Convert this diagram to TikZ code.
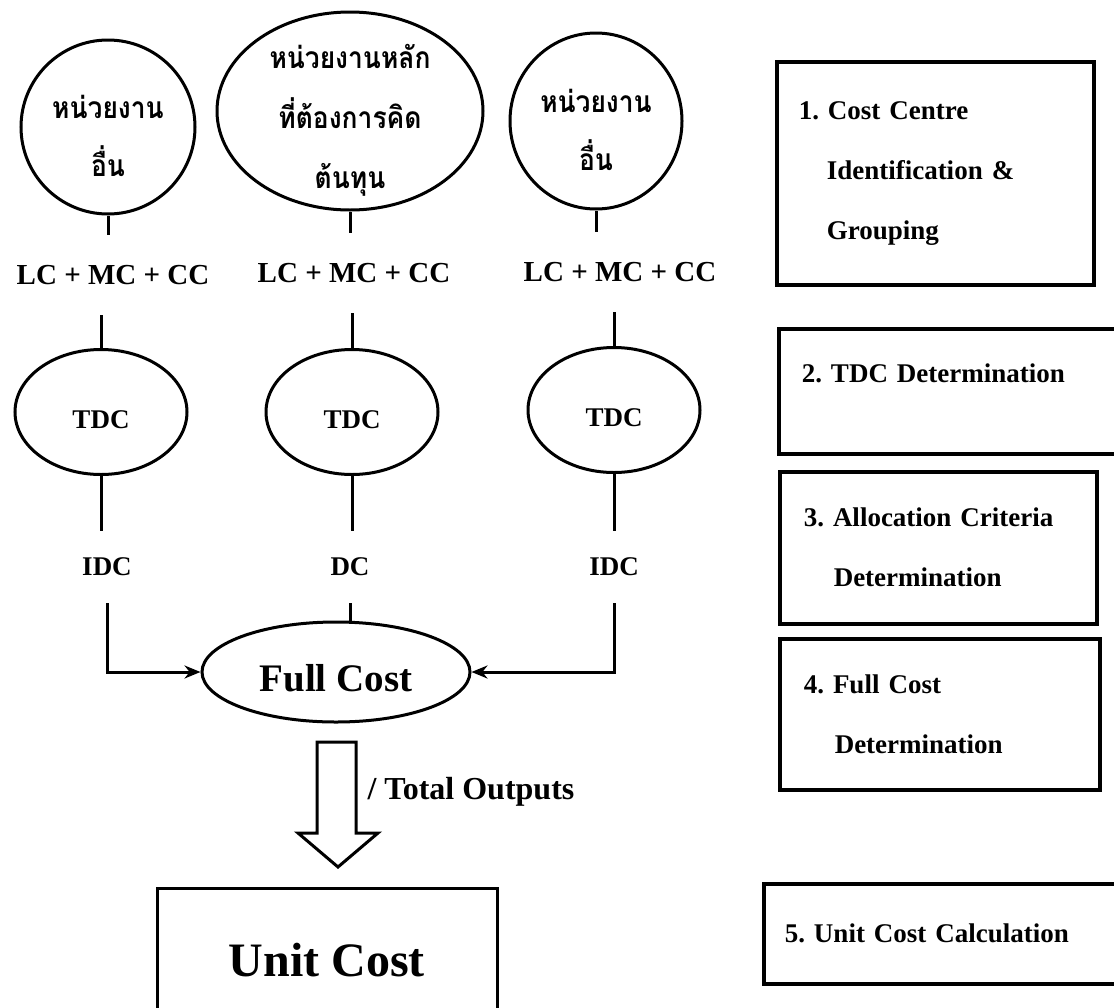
\documentclass[tikz,border=0pt]{standalone}
\usepackage{fontspec}
\setmainfont{Liberation Serif}
\newfontfamily\thaifont[Script=Thai, FakeStretch=0.88]{Loma}
\usetikzlibrary{shapes.geometric, arrows.meta}

\begin{document}
\frenchspacing
\begin{tikzpicture}[x=1pt, y=-1pt, line width=3pt,
  unidade/.style={ellipse, draw, inner sep=0pt},
  tailandes/.style={align=center, yshift=-9pt,
    font=\thaifont\bfseries\fontsize{30}{58}\selectfont},
  custo/.style={inner sep=0pt, outer ysep=30pt, font=\bfseries\fontsize{29}{34}\selectfont},
  rateio/.style={inner sep=0pt, outer ysep=27pt, font=\bfseries\fontsize{27}{32}\selectfont},
  tdc/.style={ellipse, draw, minimum width=172pt, minimum height=125pt, inner sep=0pt,
    text height=32pt, text depth=0pt, font=\bfseries\fontsize{27}{32}\selectfont},
  etapa/.style={draw, line width=3.5pt, anchor=north west, align=left, inner xsep=22pt,
    font=\bfseries\fontsize{27}{60}\selectfont},
  seta/.style={-{Stealth[length=16pt, width=13pt]}}]

\useasboundingbox (0,0) rectangle (1114,1007);
\clip (0,0) rectangle (1114,1007);

% Unidades
\node[unidade, minimum width=174pt, minimum height=174pt,
  label={[tailandes]center:หน่วยงาน\\อื่น}] (u1) at (108,127) {};
\node[unidade, minimum width=266pt, minimum height=198pt,
  label={[tailandes, font=\thaifont\bfseries\fontsize{30}{60}\selectfont]center:หน่วยงานหลัก\\ที่ต้องการคิด\\ต้นทุน}] (u2) at (350,111) {};
\node[unidade, minimum width=172pt, minimum height=176pt,
  label={[tailandes]center:หน่วยงาน\\อื่น}] (u3) at (596,121) {};

% Custos
\node[custo] (c1) at (113,275) {LC + MC + CC};
\node[custo] (c2) at (354,273) {LC + MC + CC};
\node[custo] (c3) at (620,272) {LC + MC + CC};

% TDC
\node[tdc] (t1) at (101,412) {TDC};
\node[tdc] (t2) at (352,412) {TDC};
\node[tdc] (t3) at (614,410) {TDC};

\node[rateio] (i1) at (107,567) {IDC};
\node[rateio] (i2) at (350,567) {DC};
\node[rateio] (i3) at (614,567) {IDC};

% Full cost e unit cost
\node[ellipse, draw, minimum width=268pt, minimum height=100pt, inner sep=0pt,
  text height=38pt, text depth=0pt,
  font=\bfseries\fontsize{39}{44}\selectfont] (full) at (336,672) {Full Cost};
\node[draw, minimum width=340pt, minimum height=144pt,
  font=\bfseries\fontsize{48}{52}\selectfont] (unit) at (327,960) {Unit Cost};

% ligacoes
\draw (u1.south) -- (u1.south |- c1.north);
\draw (u2.south) -- (u2.south |- c2.north);
\draw (u3.south) -- (u3.south |- c3.north);
\draw (t1.north) -- (t1.north |- c1.south);
\draw (t2.north) -- (t2.north |- c2.south);
\draw (t3.north) -- (t3.north |- c3.south);
\draw (t1.south) -- (t1.south |- i1.north);
\draw (t2.south) -- (t2.south |- i2.north);
\draw (t3.south) -- (t3.south |- i3.north);
\draw[seta] (i1.south) |- (full.west);
\draw (i2.south) -- (i2.south |- full.north);
\draw[seta] (i3.south) |- (full.east);

% seta larga
\draw (317,742) -- (356,742) -- (356,833) -- (378,833) -- (338,867) -- (298,833) -- (317,833) -- cycle;
\node[anchor=west, inner sep=0pt, font=\bfseries\fontsize{32}{36}\selectfont] (tot) at (366,792) {/ Total Outputs};

% Etapas
\node[etapa, text width=273pt, minimum height=223pt] (e1) at (775,60)
  {1. Cost Centre\\\hspace*{28pt}Identification \&\\\hspace*{28pt}Grouping};
\node[etapa, text width=314pt, inner xsep=23pt, inner ysep=10pt,
  text height=44pt, text depth=61pt] (e2) at (777,327) {2. TDC Determination};
\node[etapa, text width=269pt, inner xsep=24pt, minimum height=152pt] (e3) at (778,470)
  {3. Allocation Criteria\\\hspace*{30pt}Determination};
\node[etapa, text width=272pt, inner xsep=24pt, minimum height=151pt] (e4) at (778,637)
  {4. Full Cost\\\hspace*{31pt}Determination};
\node[etapa, text width=328pt, inner xsep=21pt, minimum height=100pt] (e5) at (762,882)
  {5. Unit Cost Calculation};

\end{tikzpicture}
\end{document}
